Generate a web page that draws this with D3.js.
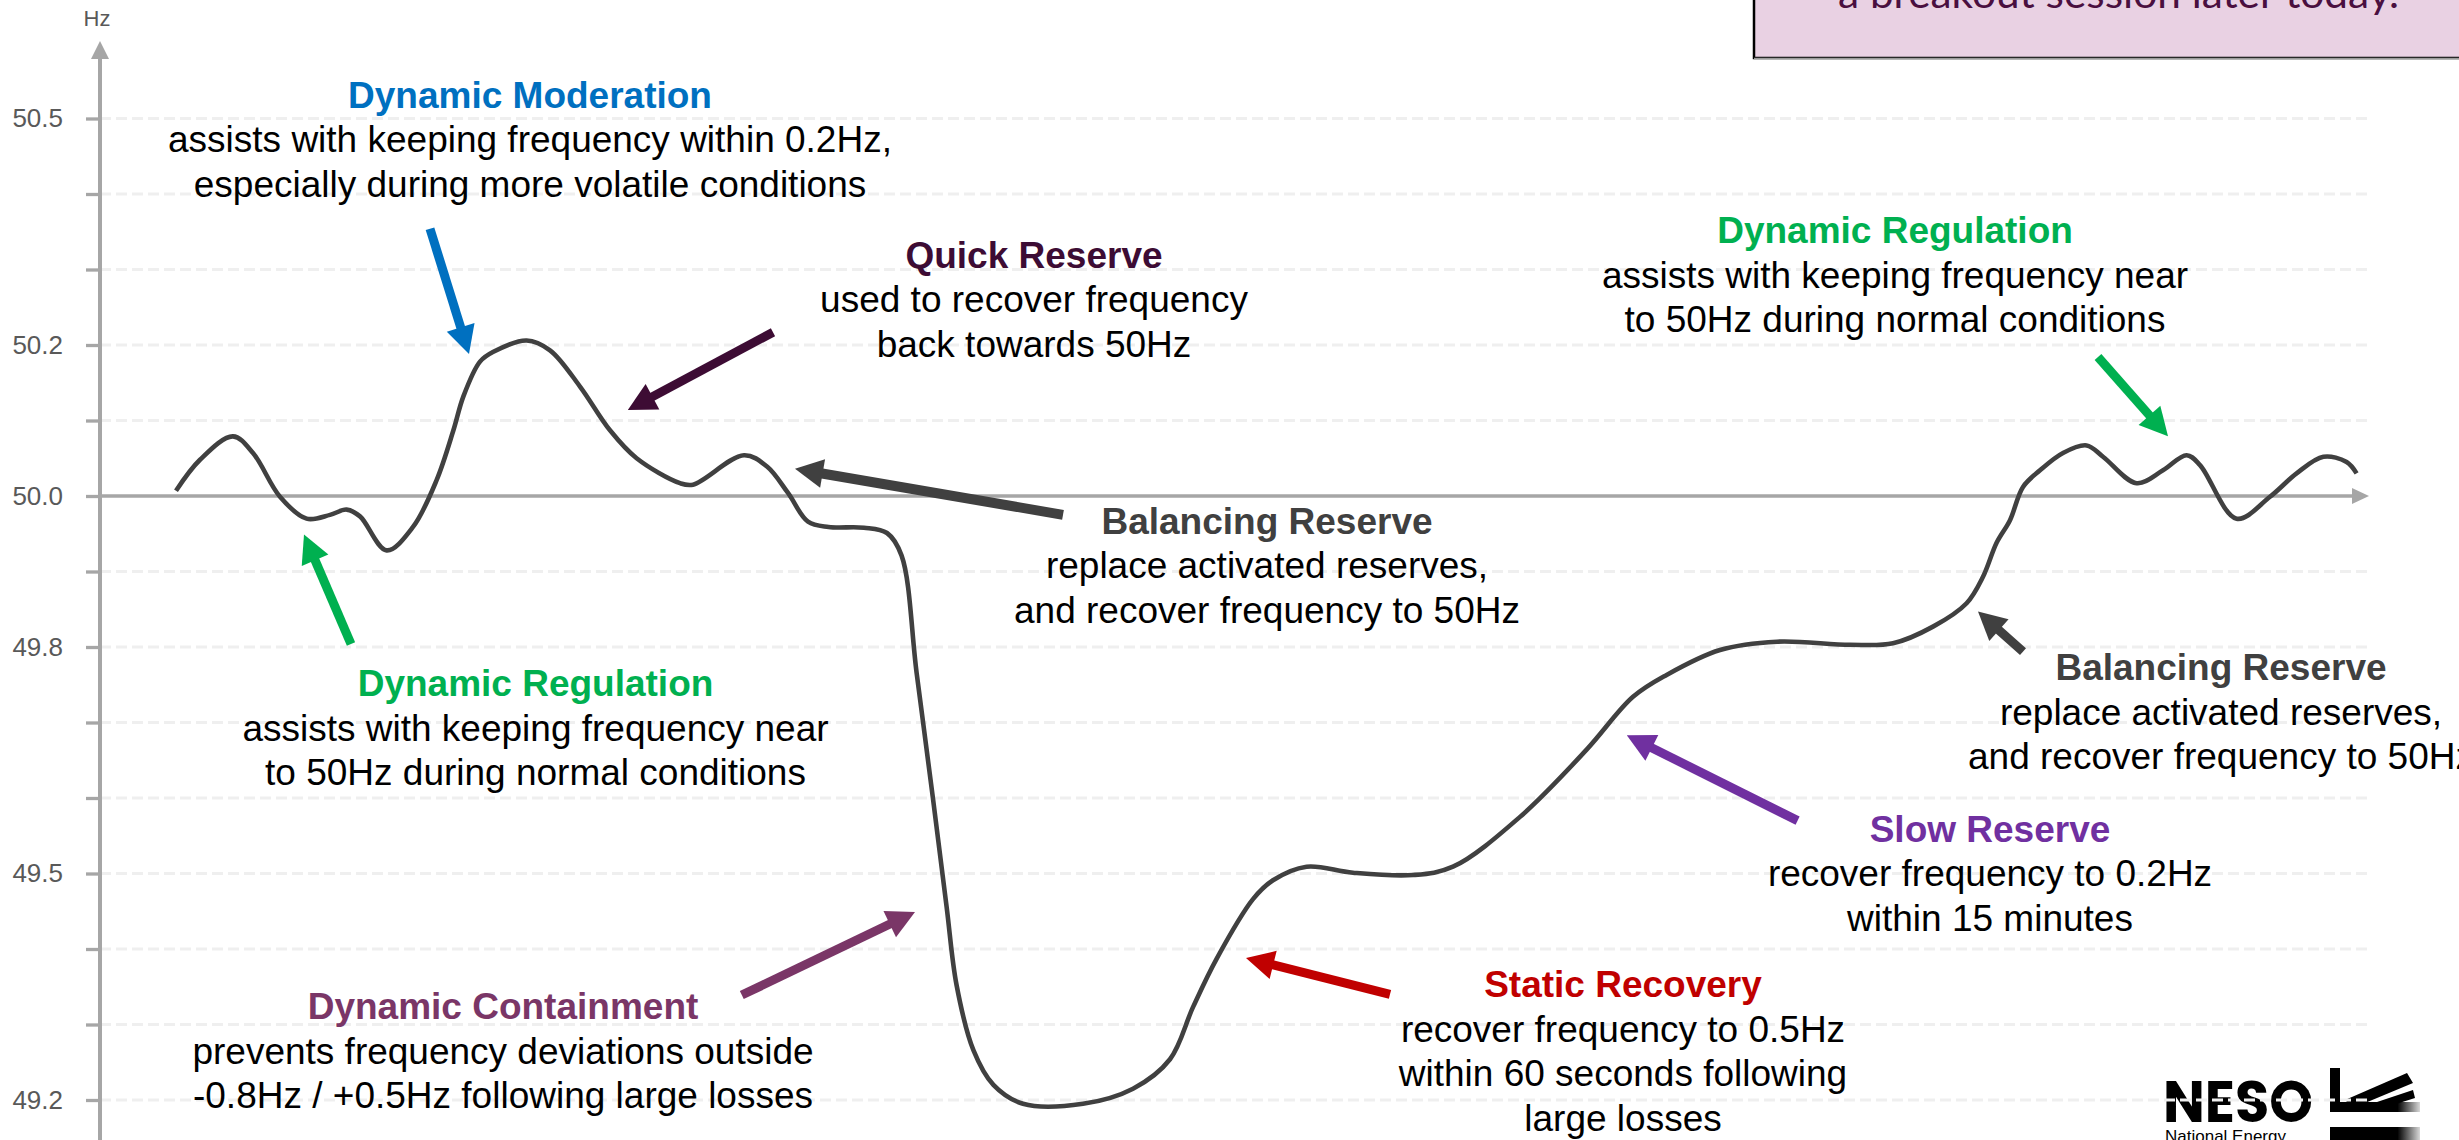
<!DOCTYPE html>
<html>
<head>
<meta charset="utf-8">
<script src="https://cdn.jsdelivr.net/npm/d3@7"></script>
<style>
  html, body { margin: 0; padding: 0; background: #ffffff; overflow: hidden; }
  svg { display: block; }
</style>
</head>
<body>
<svg id="chart" width="2459" height="1140"></svg>
<script>
// Frequency trace: time (arbitrary seconds) and frequency (Hz)
const traceTime = [38, 50, 66.5, 76.5, 90, 103.3, 115, 123.3, 130, 143.3, 156.5, 168.3, 176.7, 181.7, 190, 196.7,
  213.3, 225, 240, 255, 268.3, 290, 296.5, 322, 333.5, 344, 354, 364.3, 382, 393.5, 400.8, 408.3, 416.5, 423.3,
  428.3, 436.7, 446.7, 461.5, 491.5, 516.5, 535, 546.5, 558.3, 576.5, 586.5, 603.3, 626.5, 656.5, 676.5, 710,
  743.3, 766.5, 783.3, 810, 838.5, 875, 896.5, 916.5, 933.3, 941.5, 948.3, 955, 961.5, 970, 981.5, 993.3,
  1001.5, 1018.3, 1031.5, 1043.3, 1050, 1068.3, 1085, 1098.3, 1111.7, 1123.3, 1128.3];
const traceHz = [50.007, 50.048, 50.079, 50.057, 49.999, 49.970, 49.975, 49.982, 49.973, 49.928, 49.959, 50.021,
  50.087, 50.132, 50.178, 50.191, 50.206, 50.193, 50.145, 50.087, 50.050, 50.017, 50.015, 50.054, 50.039, 50.004,
  49.966, 49.959, 49.958, 49.951, 49.921, 49.766, 49.599, 49.456, 49.352, 49.266, 49.220, 49.195, 49.195, 49.215,
  49.254, 49.323, 49.387, 49.466, 49.491, 49.509, 49.501, 49.498, 49.509, 49.575, 49.664, 49.734, 49.763, 49.796,
  49.807, 49.803, 49.805, 49.827, 49.858, 49.893, 49.938, 49.968, 50.012, 50.034, 50.057, 50.067, 50.052, 50.017,
  50.034, 50.054, 50.041, 49.970, 49.999, 50.030, 50.052, 50.045, 50.030];

// Axis ticks (every 0.1 Hz) and the ones that carry a label
const tickValues = [49.2, 49.3, 49.4, 49.5, 49.6, 49.7, 49.8, 49.9, 50.0, 50.1, 50.2, 50.3, 50.4, 50.5];
const tickLabels = ["49.2", "49.5", "49.8", "50.0", "50.2", "50.5"];
const nominalHz = 50.0;

// Service annotations: title, description lines, colour, anchor (t, Hz)
const serviceNames = ["Dynamic Moderation", "Quick Reserve", "Dynamic Regulation", "Balancing Reserve",
  "Dynamic Regulation", "Balancing Reserve", "Slow Reserve", "Static Recovery", "Dynamic Containment"];
const serviceText = [
  ["assists with keeping frequency within 0.2Hz,", "especially during more volatile conditions"],
  ["used to recover frequency", "back towards 50Hz"],
  ["assists with keeping frequency near", "to 50Hz during normal conditions"],
  ["replace activated reserves,", "and recover frequency to 50Hz"],
  ["assists with keeping frequency near", "to 50Hz during normal conditions"],
  ["replace activated reserves,", "and recover frequency to 50Hz"],
  ["recover frequency to 0.2Hz", "within 15 minutes"],
  ["recover frequency to 0.5Hz", "within 60 seconds following", "large losses"],
  ["prevents frequency deviations outside", "-0.8Hz / +0.5Hz following large losses"]
];
const serviceColors = ["#0070c0", "#3d0c34", "#00b050", "#404040", "#00b050", "#404040", "#7030a0", "#c00000", "#7a3667"];
const labelT = [215, 467, 897.5, 583.5, 217.75, 1060.5, 945, 761.5, 201.5];
const labelHz = [50.514, 50.302, 50.335, 49.950, 49.735, 49.756, 49.542, 49.336, 49.307];

// Pointer arrows for each service: tail and tip (t, Hz)
const arrowTailT = [165, 336.5, 999, 481.5, 125.5, 961.5, 848.8, 645, 320.9];
const arrowTailHz = [50.354, 50.217, 50.184, 49.975, 49.804, 49.794, 49.570, 49.340, 49.339];
const arrowTipT = [184.5, 263.9, 1034, 347.5, 102, 939, 763.4, 573, 407.5];
const arrowTipHz = [50.188, 50.114, 50.079, 50.036, 49.949, 49.847, 49.683, 49.388, 49.449];

const svg = d3.select("#chart");
const W = 2459, H = 1140;

const x = d3.scaleLinear().domain([0, 1134]).range([100, 2368]);
const y = d3.scaleLinear().domain([49.2, 50.5]).range([1100, 118.5]);

const axisGrey = "#a6a6a6";
const FONT = "'Liberation Sans', Arial, sans-serif";

// ---- NESO logo (bottom right), sits under the gridlines
const logo = svg.append("g").attr("transform", "translate(2163,1080)");
logo.append("text").attr("x", 0).attr("y", 42)
  .attr("font-family", "'Poppins', 'Liberation Sans', Arial, sans-serif")
  .attr("font-weight", 700).attr("font-size", 58)
  .attr("textLength", 150).attr("lengthAdjust", "spacingAndGlyphs")
  .attr("fill", "#000").text("NESO");
logo.append("text").attr("x", 2).attr("y", 62)
  .attr("font-family", FONT).attr("font-size", 17).attr("fill", "#000").text("National Energy");
const grad = svg.append("defs").append("linearGradient").attr("id", "fade")
  .attr("x1", "0%").attr("x2", "100%");
grad.append("stop").attr("offset", "75%").attr("stop-color", "#000");
grad.append("stop").attr("offset", "100%").attr("stop-color", "#000").attr("stop-opacity", 0.15);
logo.append("rect").attr("x", 167).attr("y", -12).attr("width", 10).attr("height", 44).attr("fill", "#000");
logo.append("rect").attr("x", 167).attr("y", 22).attr("width", 90).attr("height", 10).attr("fill", "url(#fade)");
logo.append("path").attr("d", "M182,20 L244,-7 L250,3 L190,28 Z").attr("fill", "#000");
logo.append("path").attr("d", "M196,28 L250,10 L252,18 L214,30 Z").attr("fill", "#000");
logo.append("rect").attr("x", 167).attr("y", 47).attr("width", 90).attr("height", 20).attr("fill", "url(#fade)");

// ---- Gridlines
svg.append("g").selectAll("line")
  .data(tickValues.filter(v => Math.abs(v - nominalHz) > 1e-9))
  .join("line")
  .attr("x1", 100).attr("x2", 2370)
  .attr("y1", d => y(d)).attr("y2", d => y(d))
  .attr("stroke", "#efefef").attr("stroke-width", 3.2)
  .attr("stroke-dasharray", "11,5");

// ---- Y axis with ticks
const yAxis = d3.axisLeft(y)
  .tickValues(tickValues)
  .tickSize(14)
  .tickPadding(23)
  .tickFormat(d => {
    const s = d.toFixed(1);
    return tickLabels.includes(s) ? s : "";
  });
const gy = svg.append("g").attr("transform", "translate(100,0)").call(yAxis);
gy.select(".domain").remove();
gy.selectAll(".tick line").attr("stroke", axisGrey).attr("stroke-width", 3.3);
gy.selectAll(".tick text").attr("fill", "#595959").attr("font-size", 26).attr("font-family", FONT);

// vertical axis line with arrow head
svg.append("line").attr("x1", 100).attr("x2", 100).attr("y1", H).attr("y2", 56)
  .attr("stroke", axisGrey).attr("stroke-width", 4);
svg.append("path").attr("d", `M100,41 L109,59 L91,59 Z`).attr("fill", axisGrey);
svg.append("text").attr("x", 97).attr("y", 26).attr("text-anchor", "middle")
  .attr("font-family", FONT).attr("font-size", 22).attr("fill", "#595959").text("Hz");

// 50 Hz reference line with arrow head
svg.append("line").attr("x1", 100).attr("x2", 2354)
  .attr("y1", y(nominalHz)).attr("y2", y(nominalHz))
  .attr("stroke", axisGrey).attr("stroke-width", 3.4);
svg.append("path")
  .attr("d", `M2369,${y(nominalHz)} L2352,${y(nominalHz) - 8} L2352,${y(nominalHz) + 8} Z`)
  .attr("fill", axisGrey);

// ---- Frequency trace
const trace = traceTime.map((t, i) => [t, traceHz[i]]);
svg.append("path")
  .datum(trace)
  .attr("d", d3.line().x(d => x(d[0])).y(d => y(d[1])).curve(d3.curveCatmullRom.alpha(0.5)))
  .attr("fill", "none").attr("stroke", "#404040").attr("stroke-width", 4.6)
  .attr("stroke-linejoin", "round");

// ---- Arrows
const arrows = svg.append("g");
arrowTailT.forEach((_, i) => {
  const x0 = x(arrowTailT[i]), y0 = y(arrowTailHz[i]);
  const x1 = x(arrowTipT[i]), y1 = y(arrowTipHz[i]);
  const dx = x1 - x0, dy = y1 - y0, len = Math.hypot(dx, dy);
  const ux = dx / len, uy = dy / len;
  const headL = 28, headW = 14.5;
  const bx = x1 - ux * headL, by = y1 - uy * headL;
  const col = serviceColors[i];
  arrows.append("line")
    .attr("x1", x0).attr("y1", y0).attr("x2", bx + ux * 2).attr("y2", by + uy * 2)
    .attr("stroke", col).attr("stroke-width", i === 3 ? 10 : 9);
  arrows.append("path")
    .attr("d", `M${x1},${y1} L${bx - uy * headW},${by + ux * headW} L${bx + uy * headW},${by - ux * headW} Z`)
    .attr("fill", col);
});

// ---- Annotation text
const lineGap = 44.5;
const notes = svg.append("g").attr("font-family", FONT).attr("font-size", 37).attr("text-anchor", "middle");
serviceNames.forEach((name, i) => {
  const cx = x(labelT[i]), by = y(labelHz[i]);
  notes.append("text").attr("x", cx).attr("y", by)
    .attr("font-weight", 700).attr("fill", serviceColors[i]).text(name);
  serviceText[i].forEach((line, j) => {
    notes.append("text").attr("x", cx).attr("y", by + lineGap * (j + 1))
      .attr("fill", "#000").text(line);
  });
});

// ---- Callout box (top right)
svg.append("rect").attr("x", 1754).attr("y", -10).attr("width", 720).attr("height", 68)
  .attr("fill", "#e9d1e3").attr("stroke", "#000").attr("stroke-width", 2.5);
svg.append("line").attr("x1", 1754).attr("x2", 2459).attr("y1", 58.5).attr("y2", 58.5)
  .attr("stroke", "#9a9a9a").attr("stroke-width", 1.5);
svg.append("text").attr("x", 1838).attr("y", 8)
  .attr("font-family", "Lato, 'Open Sans', sans-serif").attr("font-size", 40)
  .attr("textLength", 561).attr("lengthAdjust", "spacingAndGlyphs")
  .attr("fill", "#4a0f40").text("a breakout session later today.");
</script>
</body>
</html>
